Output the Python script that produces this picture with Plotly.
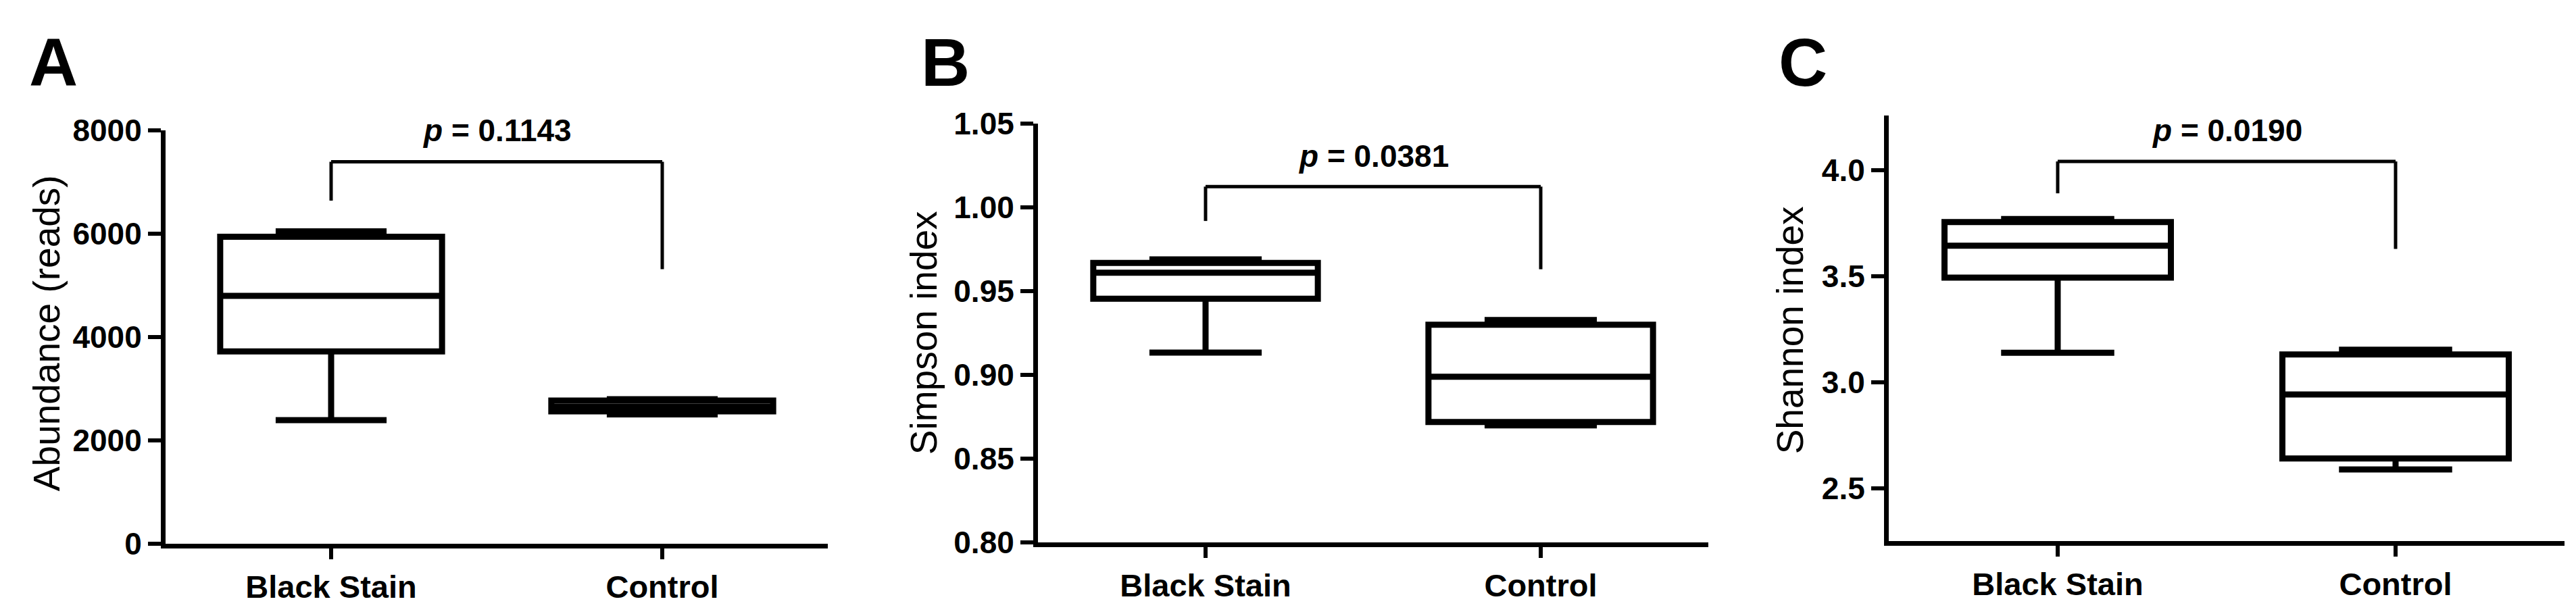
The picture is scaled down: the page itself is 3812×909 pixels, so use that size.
import plotly.graph_objects as go

W, H = 3812, 909

categories = ["Black Stain", "Control"]

# Panel A: Abundance (reads)
abund_lowerfence = [2394, 2505]
abund_q1 = [3726, 2565]
abund_median = [4801, 2655]
abund_q3 = [5945, 2775]
abund_upperfence = [6050, 2800]

# Panel B: Simpson index
simp_lowerfence = [0.9134, 0.8699]
simp_q1 = [0.9455, 0.8720]
simp_median = [0.9610, 0.8990]
simp_q3 = [0.9669, 0.9300]
simp_upperfence = [0.9690, 0.9328]

# Panel C: Shannon index
shan_lowerfence = [3.140, 2.589]
shan_q1 = [3.494, 2.641]
shan_median = [3.645, 2.943]
shan_q3 = [3.756, 3.132]
shan_upperfence = [3.771, 3.154]

# significance brackets: [bar level, left leg bottom, right leg bottom]
brackets = {
    "A": [7396, 6644, 5318],
    "B": [1.0124, 0.9919, 0.9631],
    "C": [4.042, 3.892, 3.630],
}
p_labels = {"A": "0.1143", "B": "0.0381", "C": "0.0190"}
p_label_y = {"A": 8000, "B": 1.0306, "C": 4.19}

panel_letters = ["A", "B", "C"]
y_titles = ["Abundance (reads)", "Simpson index", "Shannon index"]

y_ranges = [[0, 8000], [0.80, 1.05], [2.25, 4.26]]
y_tickvals = [[0, 2000, 4000, 6000, 8000],
              [0.80, 0.85, 0.90, 0.95, 1.00, 1.05],
              [2.5, 3.0, 3.5, 4.0]]
y_tickformats = ["d", ".2f", ".1f"]

# pixel layout
px_x = [(237, 1217), (1528, 2520), (2787, 3787)]
px_y = [(169, 818), (158, 816), (145, 814)]
title_px = [(61, 487), (1359, 487), (2641, 483)]
letter_px = [36, 1356, 2625]

FONT = "Liberation Sans, Arial, sans-serif"
BOX_LW = 9
AXIS_LW = 7
BR_LW = 5

data_sets = [
    (abund_lowerfence, abund_q1, abund_median, abund_q3, abund_upperfence),
    (simp_lowerfence, simp_q1, simp_median, simp_q3, simp_upperfence),
    (shan_lowerfence, shan_q1, shan_median, shan_q3, shan_upperfence),
]

fig = go.Figure()
shapes = []
annotations = []

for i, (lf, q1, med, q3, uf) in enumerate(data_sets):
    n = "" if i == 0 else str(i + 1)
    xa, ya = "x" + n, "y" + n
    for j, cat in enumerate(categories):
        fig.add_trace(go.Box(
            x=[cat], q1=[q1[j]], median=[med[j]], q3=[q3[j]],
            lowerfence=[lf[j]], upperfence=[uf[j]],
            width=0.67, whiskerwidth=0.5, boxpoints=False,
            line=dict(color="black", width=BOX_LW), fillcolor="white",
            xaxis=xa, yaxis=ya, showlegend=False, hoverinfo="y",
        ))
    x0p, x1p = px_x[i]
    y0p, y1p = px_y[i]
    fig.layout["xaxis" + n] = dict(
        domain=[x0p / W, x1p / W], anchor=ya, type="category",
        categoryorder="array", categoryarray=categories,
        range=[-0.5, 1.5], showline=True, linewidth=AXIS_LW, linecolor="black",
        ticks="outside", ticklen=16, tickwidth=6, tickcolor="black",
        showgrid=False, zeroline=False,
        tickfont=dict(family=FONT, size=47, color="black", weight="bold"),
    )
    fig.layout["yaxis" + n] = dict(
        domain=[1 - y1p / H, 1 - y0p / H], anchor=xa,
        range=y_ranges[i], tickvals=y_tickvals[i], tickformat=y_tickformats[i],
        showline=True, linewidth=AXIS_LW, linecolor="black",
        ticks="outside", ticklen=19, tickwidth=6, tickcolor="black",
        showgrid=False, zeroline=False,
        tickfont=dict(family=FONT, size=46, color="black", weight="bold"),
    )
    letter = panel_letters[i]
    top, lleg, rleg = brackets[letter]
    xl, xr = categories.index("Black Stain"), categories.index("Control")
    for (xs0, ys0, xs1, ys1) in [(xl, lleg, xl, top), (xl, top, xr, top), (xr, top, xr, rleg)]:
        shapes.append(dict(type="line", xref=xa, yref=ya, x0=xs0, y0=ys0, x1=xs1, y1=ys1,
                           line=dict(color="black", width=BR_LW)))
    annotations.append(dict(
        xref=xa, yref=ya, x=(xl + xr) / 2, y=p_label_y[letter],
        text="<b><i>p</i> = " + p_labels[letter] + "</b>", showarrow=False,
        xanchor="center", yanchor="middle",
        font=dict(family=FONT, size=46, color="black"),
    ))
    tx, ty = title_px[i]
    annotations.append(dict(
        xref="paper", yref="paper", x=tx / W, y=1 - ty / H,
        text=y_titles[i], textangle=-90, showarrow=False,
        xanchor="center", yanchor="middle",
        font=dict(family=FONT, size=55, color="black"),
    ))
    annotations.append(dict(
        xref="paper", yref="paper", x=letter_px[i] / W, y=1 - 62 / H,
        text="<b>" + letter + "</b>", showarrow=False,
        xanchor="left", yanchor="middle", xshift=-3,
        font=dict(family=FONT, size=100, color="black"),
    ))

fig.update_layout(
    width=W, height=H, margin=dict(l=0, r=0, t=0, b=0),
    paper_bgcolor="white", plot_bgcolor="white",
    shapes=shapes, annotations=annotations, showlegend=False,
)

fig.write_html("out.html")
